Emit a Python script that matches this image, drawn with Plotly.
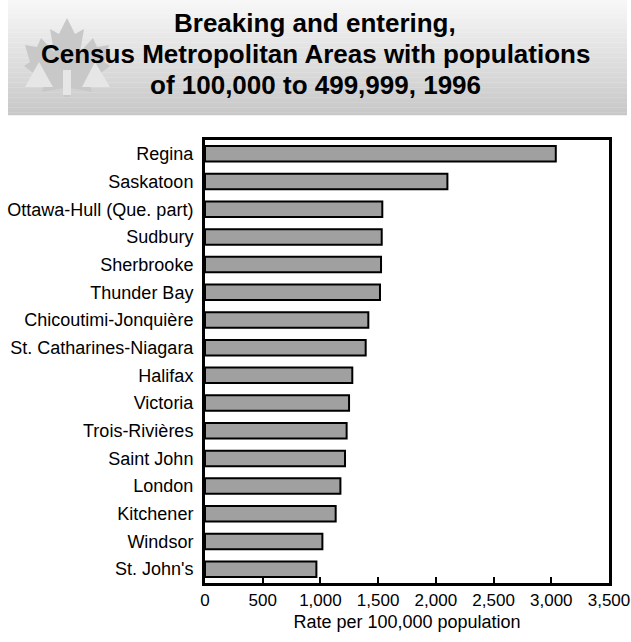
import plotly.graph_objects as go

categories = ["Regina", "Saskatoon", "Ottawa-Hull (Que. part)", "Sudbury", "Sherbrooke",
              "Thunder Bay", "Chicoutimi-Jonquière", "St. Catharines-Niagara", "Halifax",
              "Victoria", "Trois-Rivières", "Saint John", "London", "Kitchener", "Windsor",
              "St. John's"]
rates = [3039, 2100, 1536, 1531, 1525, 1516, 1415, 1392, 1276, 1248, 1227, 1213, 1173,
         1132, 1017, 965]
x_ticks = [0, 500, 1000, 1500, 2000, 2500, 3000, 3500]
title_lines = ["Breaking and entering,", "Census Metropolitan Areas with populations",
               "of 100,000 to 499,999, 1996"]

W, H = 631, 642
L, R, T, B = 205, 22, 140, 59
PW, PH = W - L - R, H - T - B


def px(x):
    return (x - L) / PW


def py(y):
    return (H - B - y) / PH


fig = go.Figure(go.Bar(
    x=rates, y=categories, orientation="h",
    marker=dict(color="#a0a0a0", line=dict(color="black", width=2)),
    hoverinfo="x+y",
))

shapes = []
# header gradient
n = 46
top, bot = 0, 115
for i in range(n):
    y0 = top + (bot - top) * i / n
    y1 = top + (bot - top) * (i + 1) / n + 0.3
    f = i / (n - 1)
    c = int(round(247 - (247 - 200) * f))
    shapes.append(dict(type="rect", xref="paper", yref="paper", x0=px(8), x1=px(627),
                       y0=py(y1), y1=py(y0), fillcolor=f"rgb({c},{c},{c})",
                       line=dict(width=0), layer="below"))

# maple leaf
right = [(67, 18), (75, 34), (84, 29), (80, 52), (93, 38), (97, 47), (109, 45), (104, 62),
         (110, 66), (89, 82), (92, 92), (70, 88), (70, 97)]
left = [(134 - x, y) for x, y in reversed(right)][:-1]
pts = right + left


def path(points):
    s = "M " + " L ".join(f"{px(x):.5f},{py(y):.5f}" for x, y in points) + " Z"
    return s


shapes.append(dict(type="path", xref="paper", yref="paper", path=path(pts),
                   fillcolor="rgb(200,200,200)", line=dict(width=0), layer="below"))
for tri in ([(25, 87), (39, 62), (53, 87)], [(82, 87), (95, 62), (110, 87)],
            [(63, 70), (71, 70), (71, 95), (63, 95)]):
    shapes.append(dict(type="path", xref="paper", yref="paper", path=path(tri),
                       fillcolor="rgb(230,230,230)", line=dict(width=0), layer="below"))

FONT = "Liberation Sans, Arial, sans-serif"
annotations = []
for line, yc in zip(title_lines, [23, 54, 85]):
    annotations.append(dict(
        text=f"<b>{line}</b>", xref="paper", yref="paper", x=px(315), y=py(yc),
        xanchor="center", yanchor="middle", showarrow=False,
        font=dict(size=26, color="black", family=FONT),
    ))

fig.update_layout(
    width=W, height=H,
    margin=dict(l=L, r=R, t=T, b=B),
    paper_bgcolor="white", plot_bgcolor="white",
    font=dict(family=FONT, size=18, color="black"),
    showlegend=False,
    bargap=0.44,
    shapes=shapes,
    annotations=annotations,
    xaxis=dict(
        range=[0, 3500], tickvals=x_ticks, tickformat=",", showgrid=False, zeroline=False,
        showline=True, mirror=True, linecolor="black", linewidth=3,
        ticks="inside", ticklen=6, tickwidth=2, tickcolor="black",
        tickfont=dict(size=17), automargin=False,
        title=dict(text="Rate per 100,000 population", font=dict(size=18), standoff=6),
        fixedrange=True,
    ),
    yaxis=dict(
        autorange="reversed", showgrid=False, zeroline=False,
        showline=True, mirror=True, linecolor="black", linewidth=3,
        ticks="", ticklabelstandoff=5, fixedrange=True, automargin=False,
    ),
)

fig.write_html("out.html", config={"displayModeBar": False},
               post_script="document.body.style.margin='0';document.body.style.overflow='hidden';")
